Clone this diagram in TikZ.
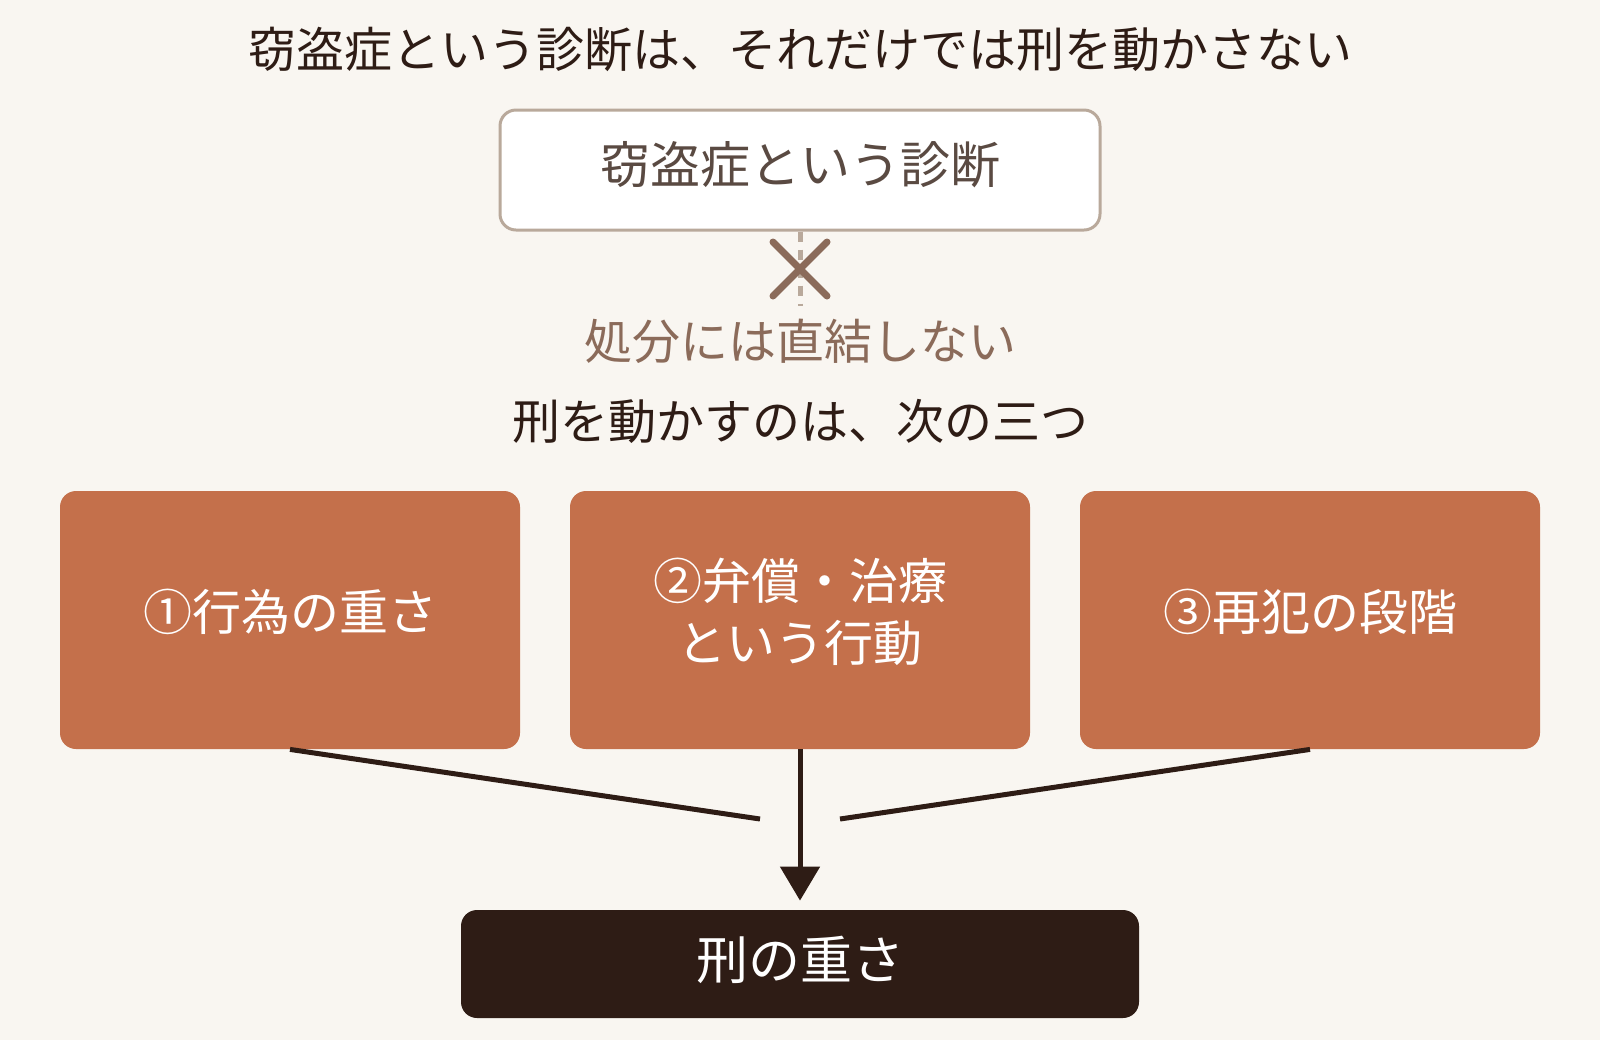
\documentclass[tikz,border=0pt]{standalone}
\usepackage{fontspec}
\usepackage{tikz}
\usetikzlibrary{arrows.meta,positioning}
\newfontfamily\jpfont{Noto Sans CJK JP}
\definecolor{paper}{RGB}{249,246,241}
\definecolor{frame}{RGB}{185,169,155}
\definecolor{diagtext}{RGB}{90,74,66}
\definecolor{muted}{RGB}{139,107,90}
\definecolor{ink}{RGB}{46,28,21}
\definecolor{terra}{RGB}{196,112,75}
\newcommand\lift[2]{\raisebox{#1}[\height][\depth]{#2}}

\begin{document}
\begin{tikzpicture}[x=0.5pt,y=-0.5pt,font=\jpfont,
  factor/.style={fill=terra,rounded corners=8pt,minimum width=230pt,minimum height=129pt,
    text=white,font=\jpfont\fontsize{24.5}{31}\selectfont,align=center,inner sep=0pt},
  link/.style={draw=ink,line width=2.5pt}]
  \useasboundingbox[fill=paper] (0,0) rectangle (1600,1040);
  \node[text=ink,font=\jpfont\fontsize{24}{28}\selectfont] (title) at (800,49) {窃盗症という診断は、それだけでは刑を動かさない};
  \node[draw=frame,line width=1.5pt,fill=white,rounded corners=8pt,minimum width=300pt,minimum height=60pt,
    text=diagtext,font=\jpfont\fontsize{25}{30}\selectfont] (diag) at (800,170) {\lift{2.5pt}{窃盗症という診断}};
  \coordinate (cut) at (800,306);
  \coordinate (cr) at (800,269);
  \draw[frame,line width=2.5pt,dash pattern=on 5pt off 4pt] (diag.south) -- (cut);
  \draw[muted,line width=3.5pt,line cap=round] (cr) ++(-27,-27) -- ++(54,54) (cr) ++(-27,27) -- ++(54,-54);
  \node[text=muted,font=\jpfont\fontsize{24}{28}\selectfont] (note) at (800,341) {処分には直結しない};
  \node[text=ink,font=\jpfont\fontsize{24}{28}\selectfont] (lead) at (800,421) {刑を動かすのは、次の三つ};
  % three factors
  \node[factor] (act) at (290,620) {\lift{4pt}{①行為の重さ}};
  \node[factor] (comp) at (800,620) {\lift{4pt}{②弁償・治療}\\\lift{4pt}{という行動}};
  \node[factor] (stage) at (1310,620) {\lift{4pt}{③再犯の段階}};
  \node[fill=ink,rounded corners=8pt,minimum width=339pt,minimum height=54pt,
    text=white,font=\jpfont\fontsize{26}{30}\selectfont] (res) at (800,964) {\lift{2pt}{刑の重さ}};
  \coordinate (jl) at (760,819);
  \coordinate (jr) at (840,819);
  \draw[link] (act.south) -- (jl);
  \draw[link] (stage.south) -- (jr);
  \draw[link,-{Triangle[length=17pt,width=19.5pt]},shorten >=4.5pt] (comp.south) -- (res.north);
\end{tikzpicture}
\end{document}
